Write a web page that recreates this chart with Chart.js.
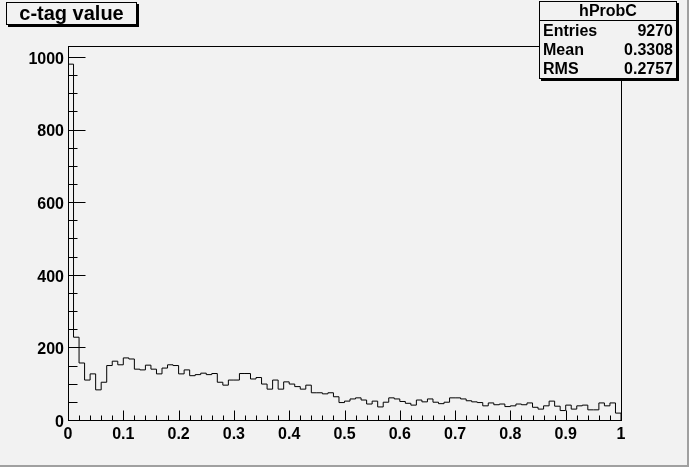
<!DOCTYPE html>
<html>
<head>
<meta charset="utf-8">
<script src="https://cdn.jsdelivr.net/npm/chart.js@4/dist/chart.umd.min.js"></script>
<style>
html,body{margin:0;padding:0;background:#f2f2f2;}
canvas{display:block;}
</style>
</head>
<body>
<canvas id="c" width="689" height="467"></canvas>
<script>
// ---- data ----
const histName = "hProbC";
const histTitle = "c-tag value";
const xMin = 0, xMax = 1, nBins = 100;
const counts = [
  980, 228, 157, 110, 127,  83, 104, 150, 162, 152,
  171, 168, 140, 138, 151, 140, 127, 143, 152, 150,
  127, 138, 122, 125, 129, 125, 128, 104,  96, 110,
  110, 128, 128, 113, 117,  99,  85, 110,  85, 105,
   99,  92,  85,  96,  75,  75,  72,  75,  64,  48,
   52,  58,  61,  55,  44,  52,  36,  49,  61,  58,
   51,  46,  41,  55,  50,  58,  49,  45,  49,  61,
   61,  58,  53,  50,  48,  39,  47,  42,  44,  37,
   39,  44,  42,  47,  35,  30,  39,  52,  38,  26,
   41,  30,  39,  41,  28,  28,  47,  39,  47,  19
];
const statLabels = ["Entries", "Mean", "RMS"];
const statValues = ["9270", "0.3308", "0.2757"];
const xTickLabels = ["0","0.1","0.2","0.3","0.4","0.5","0.6","0.7","0.8","0.9","1"];
const yTickLabels = ["0","200","400","600","800","1000"];
const yMax = 1030;

// ---- build histogram outline points from bins ----
const binW = (xMax - xMin) / nBins;
const pts = [{x: xMin, y: 0}];
counts.forEach((c, i) => pts.push({x: xMin + i * binW, y: c}));
pts.push({x: xMax, y: counts[counts.length - 1]});
pts.push({x: xMax, y: 0});

const BG = '#f2f2f2';
const FONT = '"Liberation Sans", Arial, Helvetica, sans-serif';

const rootPlugin = {
  id: 'rootStyle',
  beforeDraw(chart) {
    const ctx = chart.ctx;
    ctx.save();
    ctx.fillStyle = BG;
    ctx.fillRect(0, 0, chart.width, chart.height);
    ctx.restore();
  },
  afterDatasetsDraw(chart) {
    const ctx = chart.ctx;
    const xs = chart.scales.x, ys = chart.scales.y;
    const a = chart.chartArea;
    const L = Math.round(a.left) + 0.5, R = Math.round(a.right) + 0.5;
    const T = Math.round(a.top) + 0.5, B = Math.round(a.bottom) + 0.5;
    ctx.save();
    ctx.strokeStyle = '#000';
    ctx.lineWidth = 1;
    ctx.strokeRect(L, T, R - L, B - T);
    ctx.beginPath();
    for (let k = 0; k <= 50; k++) {
      const v = xMin + k * 0.02;
      const px = Math.round(xs.getPixelForValue(v)) + 0.5;
      const len = (k % 5 === 0) ? 10 : 5;
      ctx.moveTo(px, B);
      ctx.lineTo(px, B - len);
    }
    for (let v = 0; v <= yMax; v += 50) {
      const py = Math.round(ys.getPixelForValue(v)) + 0.5;
      const len = (v % 200 === 0) ? 17 : 9;
      ctx.moveTo(L, py);
      ctx.lineTo(L + len, py);
    }
    ctx.stroke();
    ctx.restore();
  },
  afterDraw(chart) {
    const ctx = chart.ctx;
    ctx.save();
    ctx.fillStyle = '#a0a0a0';
    ctx.fillRect(chart.width - 2, 0, 2, chart.height);
    ctx.fillRect(0, chart.height - 2, chart.width, 2);

    // title box
    const tb = {x: 6, y: 2, w: 130, h: 22};
    ctx.fillStyle = '#000';
    ctx.fillRect(tb.x + 2, tb.y + 2, tb.w + 1, tb.h + 1);
    ctx.fillStyle = BG;
    ctx.fillRect(tb.x, tb.y, tb.w, tb.h);
    ctx.strokeStyle = '#000';
    ctx.lineWidth = 1;
    ctx.strokeRect(tb.x + 0.5, tb.y + 0.5, tb.w, tb.h);
    ctx.fillStyle = '#000';
    ctx.font = 'bold 20px ' + FONT;
    ctx.textAlign = 'center';
    ctx.textBaseline = 'middle';
    ctx.fillText(histTitle, tb.x + tb.w / 2 + 0.5, tb.y + tb.h / 2 + 1.5);

    // stats box
    const sb = {x: 539, y: 1, w: 137, h: 77};
    ctx.fillStyle = '#000';
    ctx.fillRect(sb.x + 2, sb.y + 2, sb.w + 1, sb.h + 1);
    ctx.fillStyle = BG;
    ctx.fillRect(sb.x, sb.y, sb.w, sb.h);
    ctx.strokeRect(sb.x + 0.5, sb.y + 0.5, sb.w, sb.h);
    const rowH = sb.h / 4;
    ctx.beginPath();
    ctx.moveTo(sb.x, Math.round(sb.y + rowH) + 0.5);
    ctx.lineTo(sb.x + sb.w, Math.round(sb.y + rowH) + 0.5);
    ctx.stroke();
    ctx.fillStyle = '#000';
    ctx.font = 'bold 16px ' + FONT;
    ctx.textAlign = 'center';
    ctx.fillText(histName, sb.x + sb.w / 2 + 0.5, sb.y + rowH / 2 + 1);
    statLabels.forEach((lab, i) => {
      const cy = sb.y + rowH * (i + 1.5) + 1.5;
      ctx.textAlign = 'left';
      ctx.fillText(lab, sb.x + 4, cy);
      ctx.textAlign = 'right';
      ctx.fillText(statValues[i], sb.x + sb.w - 3, cy);
    });
    ctx.restore();
  }
};

new Chart(document.getElementById('c'), {
  type: 'line',
  data: {
    datasets: [{
      data: pts,
      stepped: true,
      borderColor: '#000',
      borderWidth: 1,
      pointRadius: 0,
      fill: false,
      tension: 0
    }]
  },
  options: {
    responsive: false,
    animation: false,
    devicePixelRatio: 1,
    layout: {padding: {top: 46, right: 68, left: 0, bottom: 0}},
    plugins: {legend: {display: false}, tooltip: {enabled: false}, title: {display: false}},
    scales: {
      x: {
        type: 'linear',
        min: xMin, max: xMax,
        grid: {display: false, drawTicks: false},
        border: {display: false},
        afterFit(s) { s.height = 47; },
        afterBuildTicks(s) { s.ticks = xTickLabels.map(t => ({value: parseFloat(t)})); },
        ticks: {
          autoSkip: false, maxRotation: 0, minRotation: 0,
          padding: 5, color: '#000',
          font: {family: FONT, weight: 'bold', size: 16},
          callback: (v, i) => xTickLabels[i]
        }
      },
      y: {
        type: 'linear',
        min: 0, max: yMax,
        grid: {display: false, drawTicks: false},
        border: {display: false},
        afterFit(s) { s.width = 68; },
        afterBuildTicks(s) { s.ticks = yTickLabels.map(t => ({value: parseFloat(t)})); },
        ticks: {
          autoSkip: false, padding: 4, color: '#000',
          font: {family: FONT, weight: 'bold', size: 16, lineHeight: 0.3},
          callback: (v, i) => ['', yTickLabels[i]]
        }
      }
    }
  },
  plugins: [rootPlugin]
});
</script>
</body>
</html>
